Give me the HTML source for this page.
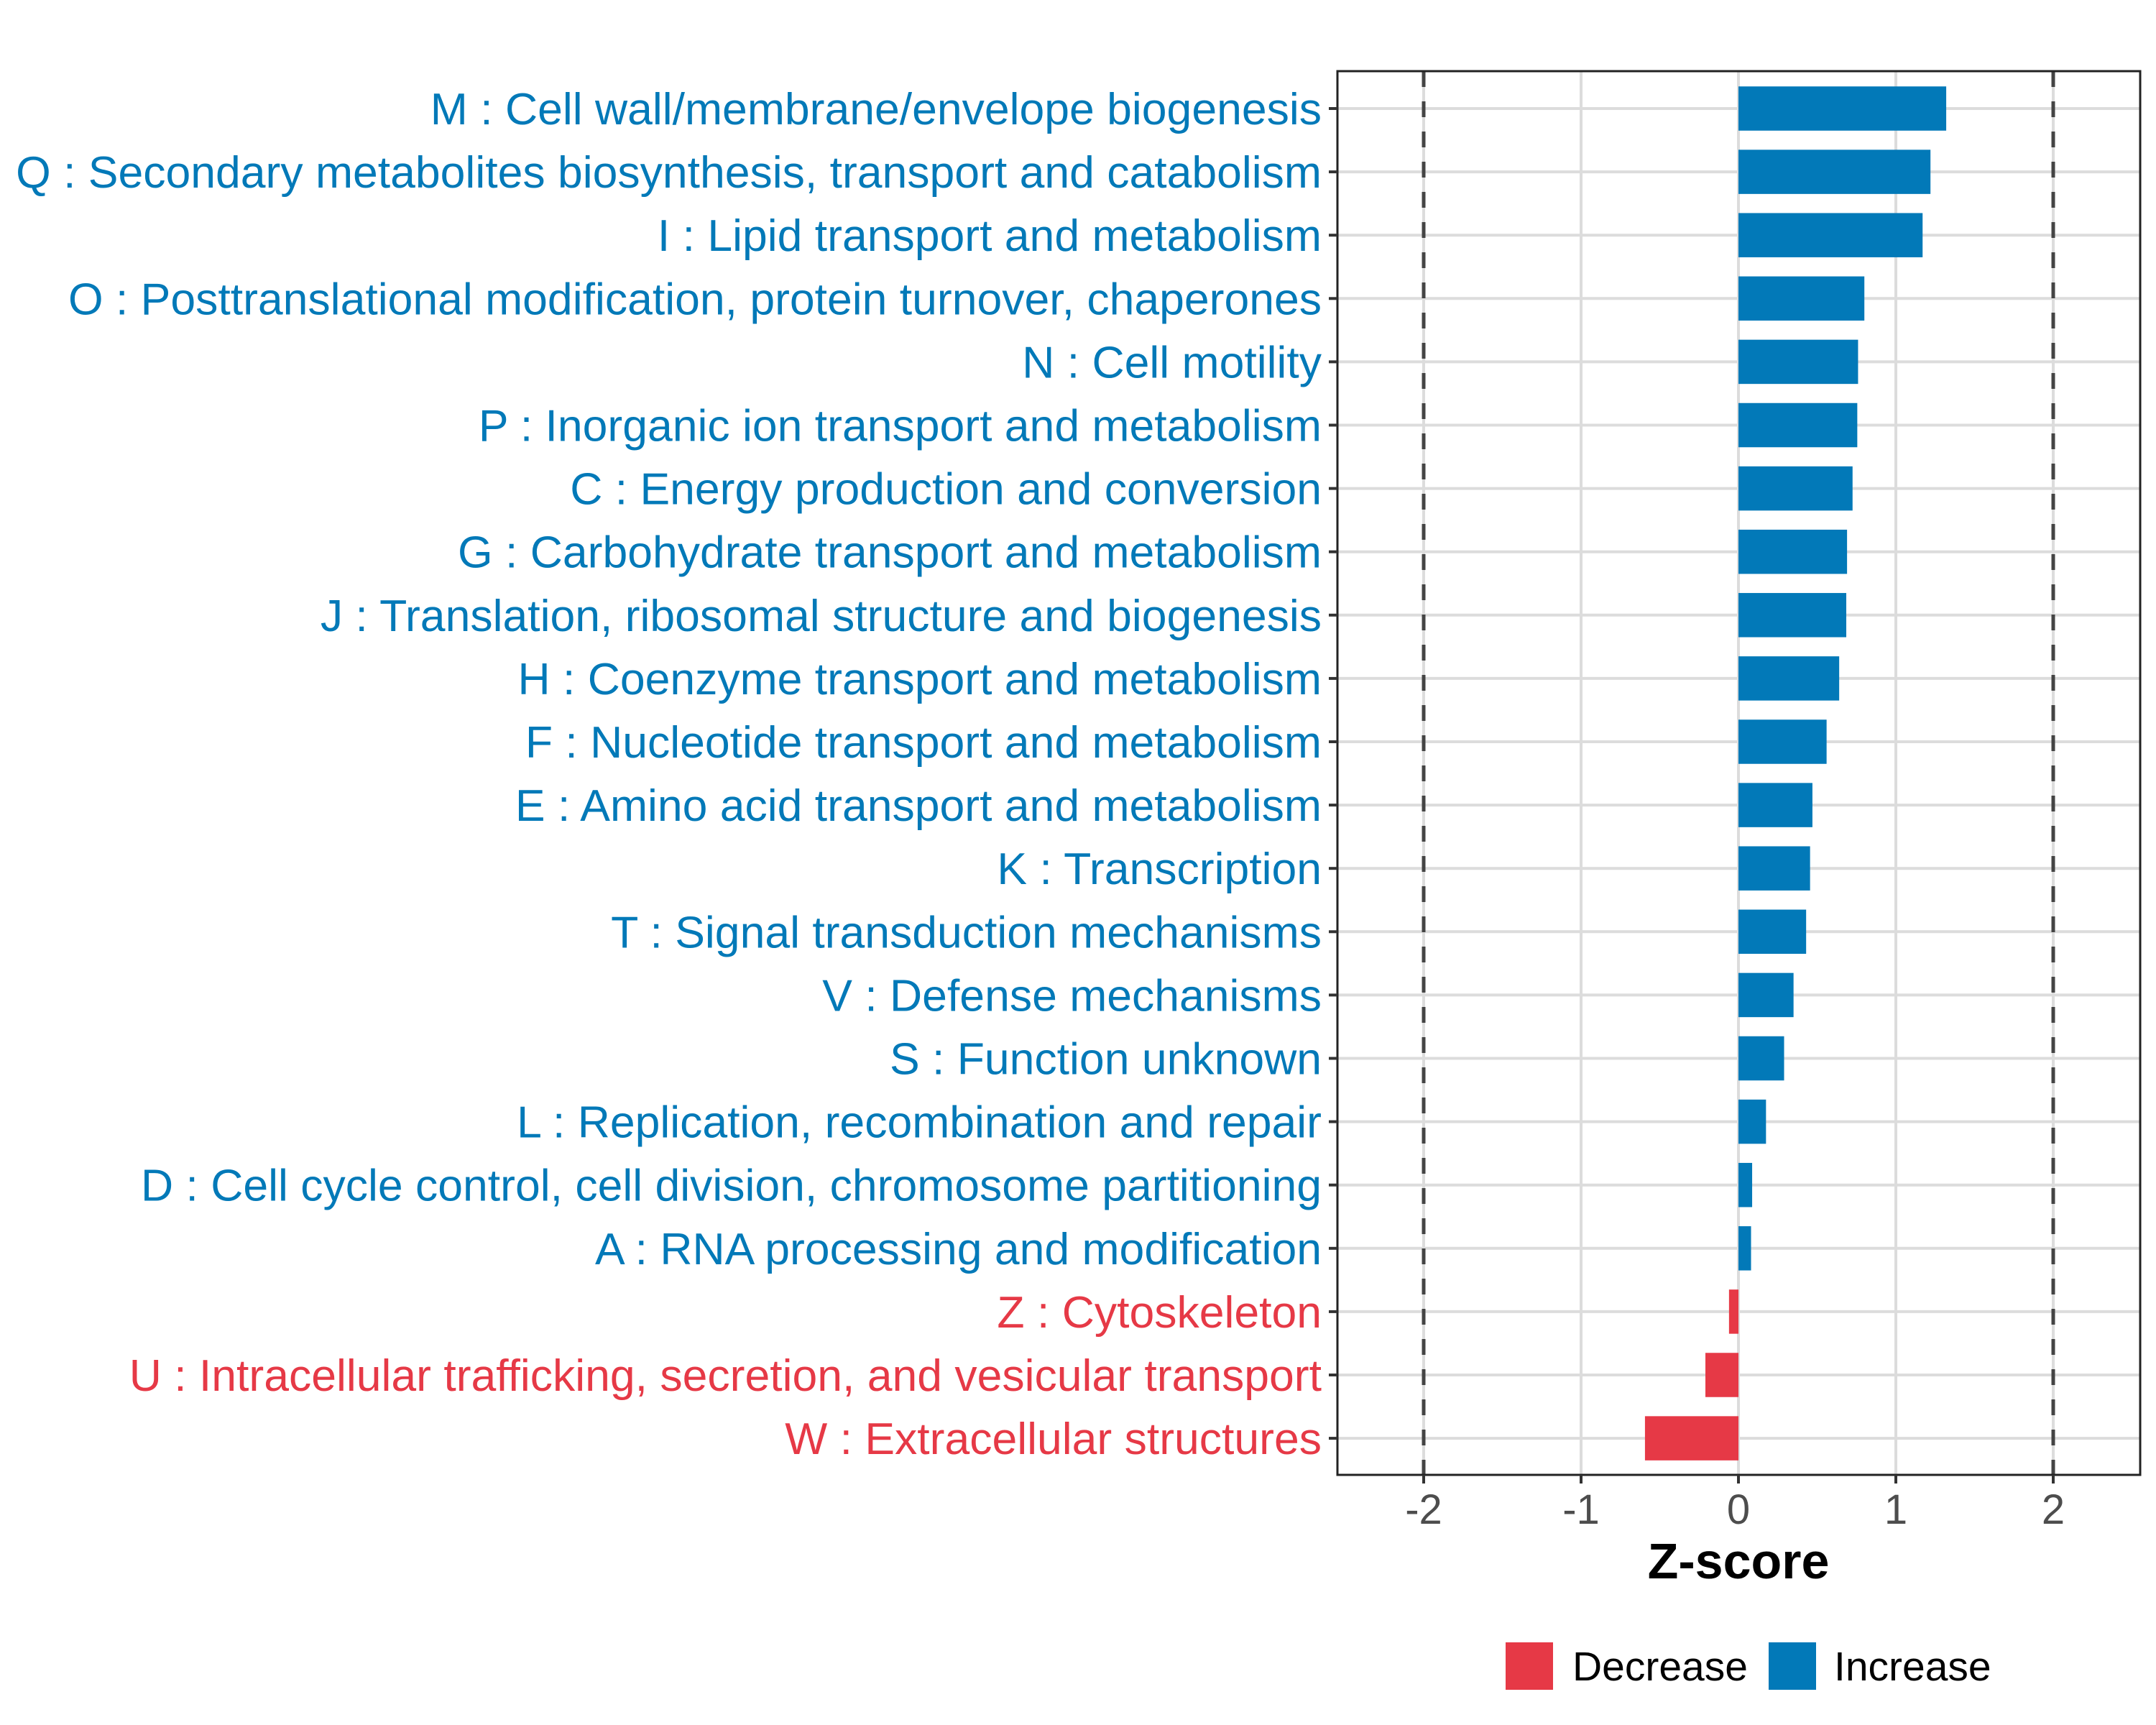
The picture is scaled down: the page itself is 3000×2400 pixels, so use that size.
<!DOCTYPE html>
<html><head><meta charset="utf-8"><style>
html,body{margin:0;padding:0;background:#fff;}
svg{display:block;font-family:"Liberation Sans",Arial,sans-serif;}
</style></head>
<body>
<svg id="chart" width="3000" height="2400" viewBox="0 0 3000 2400" xmlns="http://www.w3.org/2000/svg">
<rect x="0" y="0" width="3000" height="2400" fill="#fff"/>
<g id="grid"></g>
<g id="bars"></g>
<g id="refs"></g>
<rect x="1861" y="99" width="1117" height="1953" fill="none" stroke="#222" stroke-width="3"/>
<g id="yaxis"></g>
<g id="xaxis"></g>
<text x="2419" y="2196" text-anchor="middle" font-size="70" font-weight="bold" fill="#000">Z-score</text>
<g>
<rect x="2095" y="2285" width="66" height="66" fill="#E63946"/>
<text x="2188" y="2338" font-size="57" fill="#000">Decrease</text>
<rect x="2461" y="2285" width="66" height="66" fill="#0279B8"/>
<text x="2552" y="2338" font-size="57" fill="#000">Increase</text>
</g>
</svg>
<script>
const categories = [
"M : Cell wall/membrane/envelope biogenesis",
"Q : Secondary metabolites biosynthesis, transport and catabolism",
"I : Lipid transport and metabolism",
"O : Posttranslational modification, protein turnover, chaperones",
"N : Cell motility",
"P : Inorganic ion transport and metabolism",
"C : Energy production and conversion",
"G : Carbohydrate transport and metabolism",
"J : Translation, ribosomal structure and biogenesis",
"H : Coenzyme transport and metabolism",
"F : Nucleotide transport and metabolism",
"E : Amino acid transport and metabolism",
"K : Transcription",
"T : Signal transduction mechanisms",
"V : Defense mechanisms",
"S : Function unknown",
"L : Replication, recombination and repair",
"D : Cell cycle control, cell division, chromosome partitioning",
"A : RNA processing and modification",
"Z : Cytoskeleton",
"U : Intracellular trafficking, secretion, and vesicular transport",
"W : Extracellular structures"
];
const zscores = [1.32,1.22,1.17,0.80,0.76,0.755,0.725,0.69,0.685,0.64,0.56,0.47,0.455,0.43,0.35,0.29,0.175,0.087,0.08,-0.06,-0.21,-0.594];
const xTicks = [-2,-1,0,1,2];
const refLines = [-2,2];

const NS = "http://www.w3.org/2000/svg";
const X0 = 2419, UNIT = 219;
const Y0 = 151, STEP = 88.1, BARH = 61.5;
const BLUE = "#0279B8", RED = "#E63946";
function xs(v){ return X0 + v*UNIT; }
function ys(i){ return Y0 + i*STEP; }
function mk(tag, attrs, parent){
  const e = document.createElementNS(NS, tag);
  for (const k in attrs) e.setAttribute(k, attrs[k]);
  parent.appendChild(e);
  return e;
}
const grid = document.getElementById("grid");
const bars = document.getElementById("bars");
const refs = document.getElementById("refs");
const yaxis = document.getElementById("yaxis");
const xaxis = document.getElementById("xaxis");

xTicks.forEach(t => {
  const l = mk("line", {x1:xs(t), x2:xs(t), y1:99, y2:2052, stroke:"#dcdcdc", "stroke-width":4}, grid);
  
  
  const tk = mk("line", {x1:xs(t), x2:xs(t), y1:2052, y2:2064, stroke:"#333", "stroke-width":4}, xaxis);
  
  
  const tx = mk("text", {x:xs(t), y:2120, "text-anchor":"middle", "font-size":58, fill:"#4d4d4d"}, xaxis);
  tx.textContent = String(t);
  
  
});
categories.forEach((c, i) => {
  const y = ys(i);
  const g = mk("line", {x1:1861, x2:2978, y1:y, y2:y, stroke:"#dcdcdc", "stroke-width":4}, grid);
  
  
  const v = zscores[i];
  const color = v < 0 ? RED : BLUE;
  const b = mk("rect", {x:Math.min(xs(0), xs(v)), y:y-BARH/2, width:Math.abs(xs(v)-xs(0)), height:BARH, fill:color}, bars);
  
  
  const tk = mk("line", {x1:1849, x2:1861, y1:y, y2:y, stroke:"#333", "stroke-width":4}, yaxis);
  
  
  const tx = mk("text", {x:1839, y:y+22, "text-anchor":"end", "font-size":62.5, fill:color}, yaxis);
  tx.textContent = c;
  
  
});
refLines.forEach(r => {
  const l = mk("line", {x1:xs(r), x2:xs(r), y1:99, y2:2052, stroke:"#444", "stroke-width":5, "stroke-dasharray":"22,20"}, refs);
  
  
});
</script>
</body></html>
